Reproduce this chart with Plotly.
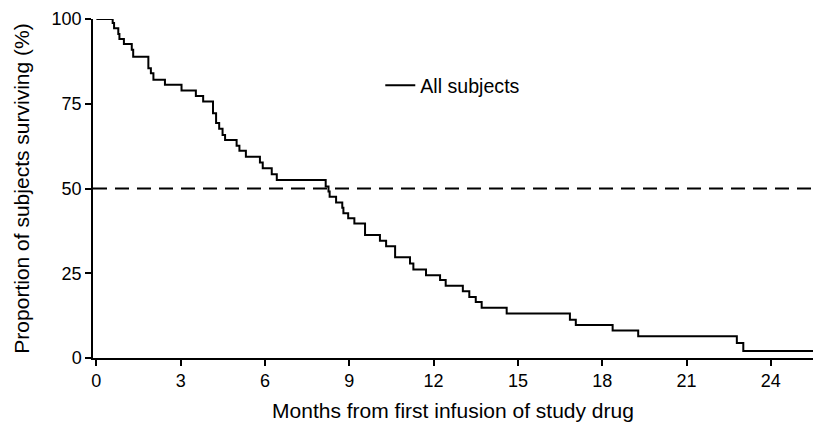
import plotly.graph_objects as go

# Kaplan-Meier step data (months, percent surviving after each drop)
event_months = [0.0, 0.58, 0.63, 0.78, 0.82, 0.98, 1.26, 1.31, 1.85, 1.94, 2.03, 2.44,
                3.03, 3.54, 3.80, 4.15, 4.26, 4.37, 4.49, 4.58, 4.99, 5.09, 5.32,
                5.82, 5.92, 6.24, 6.42, 8.16, 8.26, 8.30, 8.53, 8.75, 8.79, 8.96,
                9.18, 9.56, 10.09, 10.31, 10.63, 11.16, 11.28, 11.73, 12.23, 12.43,
                13.04, 13.27, 13.50, 13.71, 14.60, 16.85, 17.06, 18.37, 19.28,
                22.79, 23.02, 25.5]
survival_pct = [100.0, 98.8, 97.3, 95.6, 94.1, 92.6, 90.9, 88.9, 85.5, 84.0, 82.1, 80.6,
                78.9, 77.3, 75.7, 72.2, 69.3, 67.6, 65.8, 64.3, 62.6, 61.1, 59.4,
                57.7, 56.0, 54.2, 52.5, 50.6, 49.1, 47.6, 45.9, 44.3, 42.7, 41.2,
                39.7, 36.3, 34.6, 33.0, 29.7, 27.9, 26.1, 24.4, 23.0, 21.3,
                19.7, 18.0, 16.5, 14.8, 13.1, 11.3, 9.7, 8.1, 6.4,
                4.4, 2.1, 2.1]

median_ref = 50
x_ticks = [0, 3, 6, 9, 12, 15, 18, 21, 24]
y_ticks = [0, 25, 50, 75, 100]

FONT = "Liberation Sans, Arial, Helvetica, sans-serif"

fig = go.Figure()
fig.add_trace(go.Scatter(
    x=event_months, y=survival_pct, mode="lines", line_shape="hv",
    line=dict(color="black", width=2), name="All subjects", showlegend=True,
))
fig.add_hline(y=median_ref, line=dict(color="black", width=1.8, dash="14px,8px"))

fig.update_layout(
    width=813, height=422,
    margin=dict(l=93, r=0, t=19, b=64, autoexpand=False),
    paper_bgcolor="white", plot_bgcolor="white",
    font=dict(family=FONT, color="black"),
    showlegend=True,
    legend=dict(x=0.399, y=0.8035, xanchor="left", yanchor="middle",
                bgcolor="rgba(0,0,0,0)", font=dict(size=19.6, family=FONT, color="black")),
    xaxis=dict(range=[-0.12, 25.5], tickvals=x_ticks, ticks="outside", ticklen=6,
               tickwidth=1.5, tickcolor="black", showline=True, linecolor="black",
               linewidth=1.5, showgrid=False, zeroline=False, automargin=False,
               tickfont=dict(size=18, family=FONT, color="black"),
               title=dict(text="Months from first infusion of study drug",
                          font=dict(size=21, family=FONT, color="black"), standoff=14)),
    yaxis=dict(range=[0, 100], tickvals=y_ticks, ticks="outside", ticklen=6,
               tickwidth=1.5, tickcolor="black", showline=True, linecolor="black",
               linewidth=1.5, showgrid=False, zeroline=False, automargin=False,
               tickfont=dict(size=18, family=FONT, color="black"),
               title=dict(text="Proportion of subjects surviving (%)",
                          font=dict(size=21, family=FONT, color="black"), standoff=16)),
)

fig.write_html(
    "out.html",
    config={"displayModeBar": False},
    post_script="document.body.style.margin='0';document.body.style.overflow='hidden';",
)
